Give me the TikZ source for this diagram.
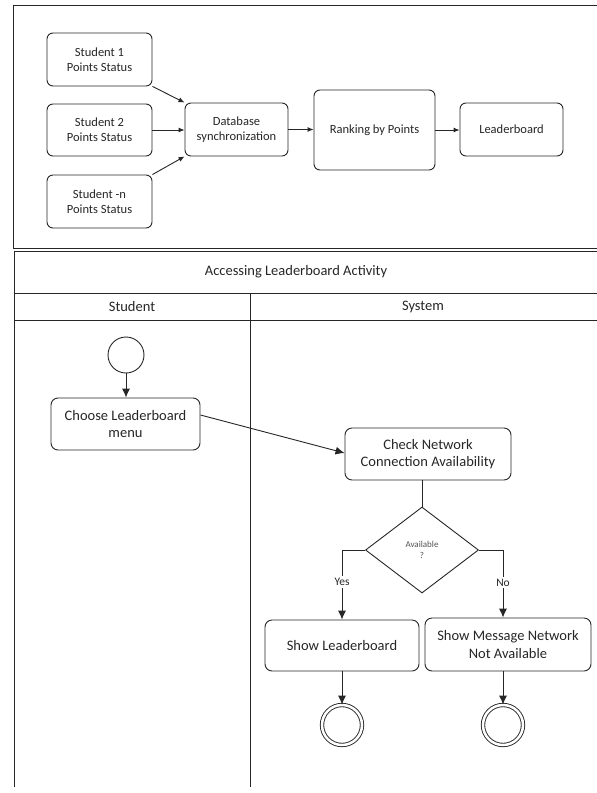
\documentclass[tikz,border=0pt]{standalone}
\usepackage{fontspec}
\setmainfont{Carlito}
\usetikzlibrary{shapes.geometric,arrows.meta,calc}
\definecolor{ink}{gray}{0.15}
\tikzset{
  frame/.style={draw=ink, line width=0.9pt},
  topbox/.style={draw=ink, line width=0.9pt, rounded corners=6pt, align=center,
    font=\fontsize{12.5}{15}\selectfont, text=ink, inner sep=0pt},
  actbox/.style={draw=ink, line width=0.9pt, rounded corners=7pt, align=center,
    font=\fontsize{14.5}{17.5}\selectfont, text=ink, inner sep=0pt},
  arr/.style={draw=ink, line width=0.9pt, -{Latex[length=6pt,width=5pt]}},
  arrb/.style={draw=ink, line width=0.9pt, -{Latex[length=9pt,width=8pt]}},
  lbl/.style={font=\fontsize{14.5}{17}\selectfont, text=ink},
  decision/.style={draw=ink, line width=0.9pt, diamond, aspect=1.31, inner sep=0pt,
    minimum width=113pt, minimum height=86pt, align=center,
    font=\fontsize{9}{11}\selectfont, text=ink!80},
  startc/.style={draw=ink, line width=0.9pt, circle, minimum size=36pt, inner sep=0pt},
  endc/.style={draw=ink, line width=0.9pt, circle, double=white, double distance=2.5pt, minimum size=40pt, inner sep=0pt},
  yn/.style={fill=white, font=\fontsize{11.5}{13}\selectfont, text=ink, inner sep=2pt}
}
\begin{document}
\begin{tikzpicture}[x=1pt,y=-1pt]
\useasboundingbox (0,0) rectangle (597,793);
% frames
\draw[frame] (597,5) -- (13,5) -- (13,248) -- (597,248);
\draw[frame] (597,251) -- (14,251) -- (14,787);
\draw[frame] (14,293) -- (597,293);
\draw[frame] (14,320) -- (597,320);
\draw[frame] (250,293) -- (250,787);
\node[lbl] (title) at (296,272) {Accessing Leaderboard Activity};
\node[lbl] (lstud) at (132,307) {Student};
\node[lbl] (lsys) at (423,307) {System};
% top flow
\node[topbox, minimum width=105pt, minimum height=53pt] (s1) at (99.5,59.5) {Student 1\\Points Status};
\node[topbox, minimum width=105pt, minimum height=52pt] (s2) at (99.5,130) {Student 2\\Points Status};
\node[topbox, minimum width=105pt, minimum height=53pt] (sn) at (99.5,201.5) {Student -n\\Points Status};
\node[topbox, minimum width=103pt, minimum height=53pt] (db) at (236.5,129.5) {Database\\synchronization};
\node[topbox, minimum width=121pt, minimum height=80pt] (rank) at (374.5,130) {Ranking by Points};
\node[topbox, minimum width=103pt, minimum height=53pt] (lb) at (511.5,129.5) {Leaderboard};
\draw[arr] (s1.south east) -- (db.north west);
\draw[arr] (s2.east) -- (s2.east -| db.west);
\draw[arr] (sn.north east) -- (db.south west);
\draw[arr] (db.east) -- (db.east -| rank.west);
\draw[arr] (rank.east) -- (rank.east -| lb.west);
% activity
\node[startc] (start) at (126,355) {};
\node[actbox, minimum width=149pt, minimum height=52pt] (choose) at (125.5,424) {Choose Leaderboard\\menu};
\node[actbox, minimum width=166pt, minimum height=52pt] (check) at (428,454) {Check Network\\Connection Availability};
\node[decision] (dia) at (422,550) {Available\\?};
\node[actbox, minimum width=154pt, minimum height=51pt] (sl) at (342,645.5) {Show Leaderboard};
\node[actbox, minimum width=166pt, minimum height=53pt] (sm) at (508,644.5) {Show Message Network\\Not Available};
\node[endc] (e1) at (342,725) {};
\node[endc] (e2) at (503,725) {};
\draw[arrb] (start.south) -- (choose.north -| start.south);
\draw[arrb] ([yshift=9pt]choose.east) -- ([yshift=1pt]check.west);
\draw[frame] (check.south -| dia.north) -- (dia.north);
\draw[arrb] (dia.west) -| node[yn, pos=0.73] {Yes} (sl.north);
\draw[arrb] (dia.east) -| node[yn, pos=0.74] {No} ([xshift=-5pt]sm.north);
\draw[arrb] (sl.south) -- (e1.north);
\draw[arrb] (sm.south -| e2.north) -- (e2.north);
\end{tikzpicture}
\end{document}
